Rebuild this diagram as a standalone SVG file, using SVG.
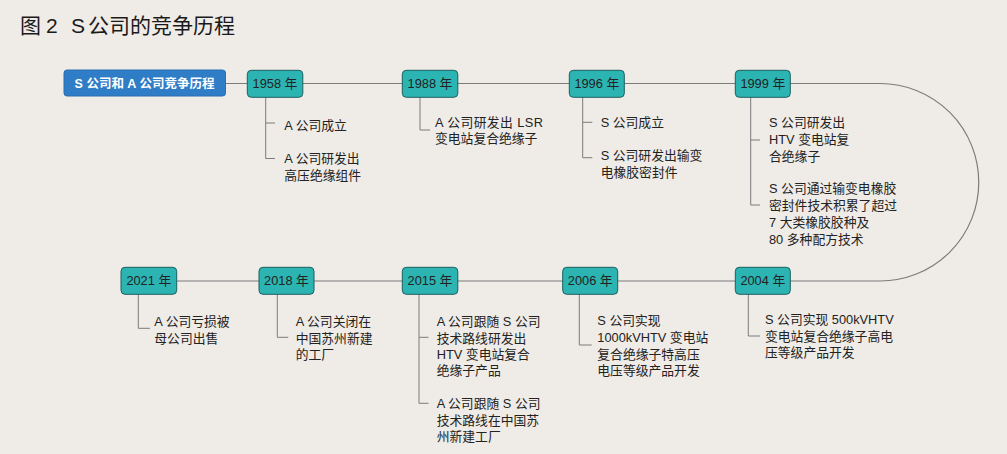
<svg xmlns="http://www.w3.org/2000/svg" width="1007" height="454" viewBox="0 0 1007 454">
<style>
text{font-family:"Liberation Sans","Noto Sans CJK SC",sans-serif;fill:#222;font-size:12.8px}
.title{font-size:21px;fill:#1a1a1a}
.yr rect{fill:#2cb4b2;stroke:#1b5f5e;stroke-width:1}
.yr text{text-anchor:middle}
.root rect{fill:#2f7dc6;stroke:#2a6fb0;stroke-width:1}
.root text{fill:#fff;font-weight:bold;font-size:12.5px;text-anchor:middle}
.ln{fill:none;stroke:#7c7c7c;stroke-width:1.2}
.br{fill:none;stroke:#7c7c7c;stroke-width:1}
</style>
<rect width="1007" height="454" fill="#efebe6"/>
<text class="title" y="33"><tspan x="20">图</tspan><tspan x="46">2</tspan><tspan x="71">S</tspan><tspan x="88">公司的竞争历程</tspan></text>
<g id="connectors">
<path class="ln" d="M225,83.5 H736"/>
<path class="ln" d="M790,83.5 H880 A98.75,98.75 0 0 1 880,281 H790"/>
<path class="ln" d="M177,281 H736"/>
<path class="br" d="M265.7,97 V158.5 H275 M265.7,123 H275"/>
<path class="br" d="M420,97 V130 H430"/>
<path class="br" d="M582.7,97 V157.7 H592.3 M582.7,122.3 H592.3"/>
<path class="br" d="M750.7,97 V205 H760 M750.7,140 H760"/>
<path class="br" d="M138.3,294 V328.3 H150"/>
<path class="br" d="M277.3,294 V337.3 H288.3"/>
<path class="br" d="M419,294 V403.3 H428.5 M419,337.3 H428.5"/>
<path class="br" d="M579.3,294 V345 H591.7"/>
<path class="br" d="M748.3,294 V336 H760"/>
</g>
<g id="root" class="root"><rect x="64" y="70" width="161.5" height="26" rx="3"/><text x="144.5" y="87.5">S 公司和 A 公司竞争历程</text></g>
<g id="y1958" class="yr"><rect x="247.3" y="70.3" width="55.5" height="27" rx="4"/><text x="275" y="88.3">1958 年</text></g>
<g id="y1988" class="yr"><rect x="402.3" y="70.3" width="55.5" height="27" rx="4"/><text x="430" y="88.3">1988 年</text></g>
<g id="y1996" class="yr"><rect x="569.3" y="70.3" width="55" height="27" rx="4"/><text x="596.8" y="88.3">1996 年</text></g>
<g id="y1999" class="yr"><rect x="735.3" y="70.3" width="55" height="27" rx="4"/><text x="762.8" y="88.3">1999 年</text></g>
<g id="y2004" class="yr"><rect x="735.3" y="267.3" width="55" height="27" rx="4"/><text x="762.8" y="285.3">2004 年</text></g>
<g id="y2006" class="yr"><rect x="562.7" y="267.3" width="55" height="27" rx="4"/><text x="590.2" y="285.3">2006 年</text></g>
<g id="y2015" class="yr"><rect x="402.3" y="267.3" width="55.5" height="27" rx="4"/><text x="430" y="285.3">2015 年</text></g>
<g id="y2018" class="yr"><rect x="259" y="267.3" width="55" height="27" rx="4"/><text x="286.5" y="285.3">2018 年</text></g>
<g id="y2021" class="yr"><rect x="121" y="267.3" width="55.7" height="27" rx="4"/><text x="148.8" y="285.3">2021 年</text></g>
<g id="t1958">
<text x="284.3" y="130">A 公司成立</text>
<text x="284.3" y="163.2">A 公司研发出</text>
<text x="284.3" y="179.8">高压绝缘组件</text>
</g>
<g id="t1988">
<text x="435" y="126.6" textLength="108" lengthAdjust="spacing">A 公司研发出 LSR</text>
<text x="435" y="143.3">变电站复合绝缘子</text>
</g>
<g id="t1996">
<text x="600.7" y="127">S 公司成立</text>
<text x="600.7" y="160.4">S 公司研发出输变</text>
<text x="600.7" y="177">电橡胶密封件</text>
</g>
<g id="t1999">
<text x="769" y="127">S 公司研发出</text>
<text x="769" y="144">HTV 变电站复</text>
<text x="769" y="160.5">合绝缘子</text>
<text x="769" y="193">S 公司通过输变电橡胶</text>
<text x="769" y="210">密封件技术积累了超过</text>
<text x="769" y="227">7 大类橡胶胶种及</text>
<text x="769" y="243.7">80 多种配方技术</text>
</g>
<g id="t2004">
<text x="765" y="323.7">S 公司实现 500kVHTV</text>
<text x="765" y="340.5">变电站复合绝缘子高电</text>
<text x="765" y="356.5">压等级产品开发</text>
</g>
<g id="t2006">
<text x="597.3" y="324.7">S 公司实现</text>
<text x="597.3" y="341.6">1000kVHTV 变电站</text>
<text x="597.3" y="358.5">复合绝缘子特高压</text>
<text x="597.3" y="375">电压等级产品开发</text>
</g>
<g id="t2015">
<text x="436.7" y="325.7">A 公司跟随 S 公司</text>
<text x="436.7" y="342.6">技术路线研发出</text>
<text x="436.7" y="359">HTV 变电站复合</text>
<text x="436.7" y="374.7">绝缘子产品</text>
<text x="436.7" y="408">A 公司跟随 S 公司</text>
<text x="436.7" y="425">技术路线在中国苏</text>
<text x="436.7" y="441.4">州新建工厂</text>
</g>
<g id="t2018">
<text x="295.7" y="325.7">A 公司关闭在</text>
<text x="295.7" y="342.8">中国苏州新建</text>
<text x="295.7" y="359">的工厂</text>
</g>
<g id="t2021">
<text x="154.3" y="325.7">A 公司亏损被</text>
<text x="154.3" y="342.8">母公司出售</text>
</g>
</svg>
